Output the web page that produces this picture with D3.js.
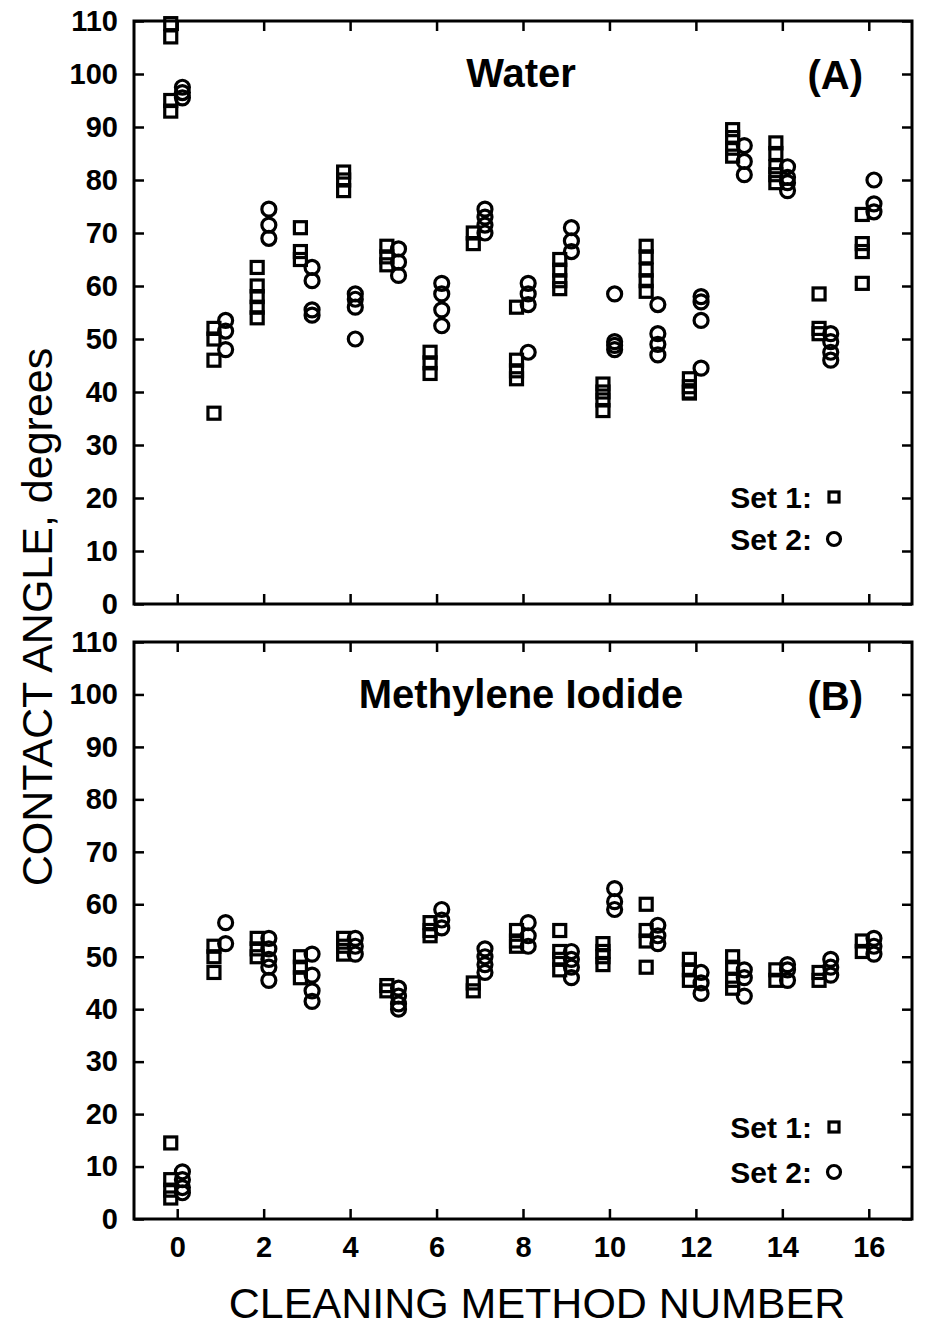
<!DOCTYPE html>
<html>
<head>
<meta charset="utf-8">
<script src="https://cdn.jsdelivr.net/npm/d3@7"></script>
<style>
  body { margin: 0; background: #fff; }
  svg { display: block; }
  text { font-family: "Liberation Sans", Arial, Helvetica, sans-serif; fill: #000; }
</style>
</head>
<body>
<script>
// Cleaning method numbers 0..16 and axis ticks
const methods = d3.range(0, 17);
const xTickValues = [0, 2, 4, 6, 8, 10, 12, 14, 16];
const yTickValues = [0, 10, 20, 30, 40, 50, 60, 70, 80, 90, 100, 110];

// Water contact angles (degrees), one list of replicate readings per cleaning method
const waterSet1 = [
  [109.5, 107, 95, 93],
  [52, 50, 46, 36],
  [63.5, 60, 58, 56, 54],
  [71, 66.5, 65],
  [81.5, 80, 78],
  [67.5, 65.5, 64],
  [47.5, 45.5, 43.5],
  [70, 68],
  [56, 46, 44, 42.5],
  [65, 63, 61, 59.5],
  [41.5, 40, 38.5, 36.5],
  [67.5, 65.5, 63, 61, 59],
  [42.5, 41, 40, 39.8],
  [89.5, 88, 86, 84.5],
  [87, 85, 82.5, 81, 79.5],
  [58.5, 52, 51],
  [73.5, 68, 66.5, 60.5]
];
const waterSet2 = [
  [97.5, 96.5, 95.5],
  [53.5, 51.5, 48],
  [74.5, 71.5, 69],
  [63.5, 61, 55.5, 54.5],
  [58.5, 57.5, 56, 50],
  [67, 64.5, 62],
  [60.5, 58.5, 55.5, 52.5],
  [74.5, 73, 71.5, 70],
  [60.5, 58.5, 56.5, 47.5],
  [71, 68.5, 66.5],
  [58.5, 49.5, 48.8, 48],
  [56.5, 51, 49, 47],
  [58, 57, 53.5, 44.5],
  [86.5, 83.5, 81],
  [82.5, 80.5, 79.5, 78],
  [51, 49.5, 47.5, 46],
  [80, 75.5, 74]
];

// Methylene iodide contact angles (degrees)
const iodideSet1 = [
  [14.5, 7.5, 5.5, 4],
  [52, 50, 47],
  [53.5, 51.5, 50],
  [50, 48, 46],
  [53.5, 52, 50.5],
  [44.5, 43.5],
  [56.5, 55, 54],
  [45, 43.5],
  [55, 53, 52],
  [55, 51, 49.5, 47.5],
  [52.5, 51, 50, 48.5],
  [60, 55, 53, 48],
  [49.5, 47.5, 45.5],
  [50, 48, 45.5, 44],
  [47.5, 45.5],
  [47, 45.5],
  [53, 51]
];
const iodideSet2 = [
  [9, 7.5, 6, 5],
  [56.5, 52.5],
  [53.5, 51.5, 49.5, 48, 45.5],
  [50.5, 46.5, 43.5, 41.5],
  [53.5, 52, 50.5],
  [44, 42.5, 41, 40],
  [59, 57, 55.5],
  [51.5, 50, 48.5, 47],
  [56.5, 54, 52],
  [51, 49.5, 48, 46],
  [63, 60.5, 59],
  [56, 54, 52.5],
  [47, 45, 43],
  [47.5, 46, 42.5],
  [48.5, 47.5, 45.5],
  [49.5, 48, 46.5],
  [53.5, 52, 50.5]
];

const panelTitles = ["Water", "Methylene Iodide"];
const panelTags = ["(A)", "(B)"];
const legendLabels = ["Set 1:", "Set 2:"];

const W = 925, H = 1330;
const svg = d3.select("body").append("svg").attr("width", W).attr("height", H);

const x = d3.scaleLinear().domain([-1, 17]).range([134, 912]);

const panels = [
  { title: panelTitles[0], tag: panelTags[0], s1: waterSet1, s2: waterSet2,
    top: 21, bottom: 604, legend: [107, 65], labels: false },
  { title: panelTitles[1], tag: panelTags[1], s1: iodideSet1, s2: iodideSet2,
    top: 642, bottom: 1219, legend: [92, 47], labels: true }
];

const flat = set => methods.flatMap(m => set[m].map(v => ({ m, v })));
const SQ = 12, R = 7, MW = 3.2;

panels.forEach(p => {
  const y = d3.scaleLinear().domain([0, 110]).range([p.bottom, p.top]);
  const g = svg.append("g");

  // frame
  g.append("rect")
    .attr("x", x.range()[0]).attr("y", p.top)
    .attr("width", x.range()[1] - x.range()[0]).attr("height", p.bottom - p.top)
    .attr("fill", "none").attr("stroke", "#000").attr("stroke-width", 3);

  const styleAxis = sel => {
    sel.select(".domain").remove();
    sel.selectAll(".tick line").attr("stroke", "#000").attr("stroke-width", 2.5);
    sel.selectAll("text").style("font-weight", "bold").style("font-size", "29px");
  };

  // inward ticks on all four sides
  g.append("g").attr("transform", `translate(0,${p.bottom})`)
    .call(d3.axisBottom(x).tickValues(xTickValues).tickSize(-10).tickPadding(14)
      .tickFormat(p.labels ? d3.format("d") : () => ""))
    .call(styleAxis)
    .call(s => s.selectAll("text").attr("dy", null).attr("y", 38));
  g.append("g").attr("transform", `translate(0,${p.top})`)
    .call(d3.axisTop(x).tickValues(xTickValues).tickSize(-10).tickFormat(() => ""))
    .call(styleAxis);
  g.append("g").attr("transform", `translate(${x.range()[0]},0)`)
    .call(d3.axisLeft(y).tickValues(yTickValues).tickSize(-10).tickPadding(16).tickFormat(d3.format("d")))
    .call(styleAxis);
  g.append("g").attr("transform", `translate(${x.range()[1]},0)`)
    .call(d3.axisRight(y).tickValues(yTickValues).tickSize(-10).tickFormat(() => ""))
    .call(styleAxis);

  // Set 1: open squares, nudged left of the method position
  g.append("g").selectAll("rect").data(flat(p.s1)).join("rect")
    .attr("x", d => x(d.m - 0.15) - SQ / 2)
    .attr("y", d => y(d.v) - SQ / 2)
    .attr("width", SQ).attr("height", SQ)
    .attr("fill", "none").attr("stroke", "#000").attr("stroke-width", MW);

  // Set 2: open circles, nudged right
  g.append("g").selectAll("circle").data(flat(p.s2)).join("circle")
    .attr("cx", d => x(d.m + 0.12))
    .attr("cy", d => y(d.v))
    .attr("r", R)
    .attr("fill", "none").attr("stroke", "#000").attr("stroke-width", MW);

  // panel title and tag
  g.append("text").attr("x", 521).attr("y", p.top + 66)
    .attr("text-anchor", "middle").style("font-size", "40px").style("font-weight", "bold")
    .text(p.title);
  g.append("text").attr("x", 863).attr("y", p.top + 68)
    .attr("text-anchor", "end").style("font-size", "40px").style("font-weight", "bold")
    .text(p.tag);

  // legend
  const lx = 812, mx = 834;
  p.legend.forEach((off, i) => {
    const ly = p.bottom - off;
    g.append("text").attr("x", lx).attr("y", ly).attr("dy", "0.35em")
      .attr("text-anchor", "end").style("font-size", "30px").style("font-weight", "bold")
      .text(legendLabels[i]);
    if (i === 0) {
      g.append("rect").attr("x", mx - 5).attr("y", ly - 5).attr("width", 10).attr("height", 10)
        .attr("fill", "none").attr("stroke", "#000").attr("stroke-width", MW);
    } else {
      g.append("circle").attr("cx", mx).attr("cy", ly).attr("r", 6.5)
        .attr("fill", "none").attr("stroke", "#000").attr("stroke-width", MW);
    }
  });
});

// axis titles
svg.append("text")
  .attr("transform", "translate(52,617) rotate(-90)")
  .attr("text-anchor", "middle").style("font-size", "43px")
  .text("CONTACT ANGLE, degrees");
svg.append("text")
  .attr("x", 537).attr("y", 1318)
  .attr("text-anchor", "middle").style("font-size", "43px")
  .text("CLEANING METHOD NUMBER");
</script>
</body>
</html>
